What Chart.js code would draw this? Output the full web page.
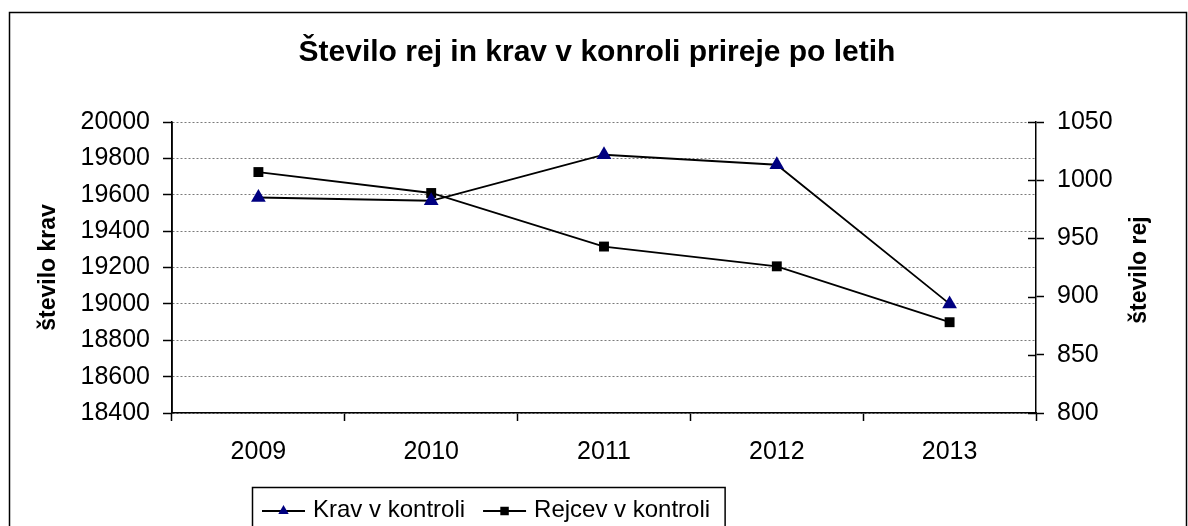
<!DOCTYPE html>
<html>
<head>
<meta charset="utf-8">
<script src="https://cdn.jsdelivr.net/npm/chart.js@4/dist/chart.umd.min.js"></script>
<style>
  html, body { margin: 0; padding: 0; background: #ffffff; }
  #wrap { width: 1188px; height: 526px; }
</style>
</head>
<body>
<div id="wrap"><canvas id="c" width="1188" height="526"></canvas></div>
<script>
// ---- data ----
const chartTitle = "Število rej in krav v konroli prireje po letih";
const years = ["2009", "2010", "2011", "2012", "2013"];
const kravLabel = "Krav v kontroli";
const kravValues = [19585, 19567, 19820, 19765, 19000];
const rejLabel = "Rejcev v kontroli";
const rejValues = [1007, 989, 943, 926, 878];
const leftAxisTitle = "število krav";
const rightAxisTitle = "število rej";
const leftRange = [18400, 20000, 200];
const rightRange = [800, 1050, 50];

const FONT = "'Liberation Sans', Arial, Helvetica, sans-serif";
Chart.defaults.font.family = FONT;
Chart.defaults.color = '#000';

function drawMarker(ctx, style, x, y, r, color) {
  ctx.save();
  ctx.fillStyle = color;
  ctx.beginPath();
  if (style === 'triangle') {
    ctx.moveTo(x, y - r);
    ctx.lineTo(x + r * Math.sqrt(3) / 2, y + r / 2);
    ctx.lineTo(x - r * Math.sqrt(3) / 2, y + r / 2);
    ctx.closePath();
  } else {
    const s = r * Math.SQRT1_2;
    ctx.rect(x - s, y - s, 2 * s, 2 * s);
  }
  ctx.fill();
  ctx.restore();
}

const decorPlugin = {
  id: 'decor',
  beforeDraw(chart) {
    const ctx = chart.ctx;
    ctx.save();
    ctx.fillStyle = '#fff';
    ctx.fillRect(0, 0, chart.width, chart.height);
    ctx.restore();
  },
  beforeDatasetsDraw(chart) {
    // solid left axis line (grid lines are dotted)
    const ctx = chart.ctx;
    const ys = chart.scales.y;
    ctx.save();
    ctx.strokeStyle = '#000';
    ctx.lineWidth = 1.5;
    ctx.setLineDash([]);
    ctx.beginPath();
    ctx.moveTo(ys.right, ys.top);
    ctx.lineTo(ys.right, ys.bottom);
    ctx.stroke();
    ctx.restore();
  },
  afterDraw(chart) {
    const ctx = chart.ctx;
    ctx.save();
    // outer frame
    ctx.strokeStyle = '#000';
    ctx.lineWidth = 1.5;
    ctx.strokeRect(9.5, 12.5, 1177, 560);
    // title
    ctx.fillStyle = '#000';
    ctx.font = 'bold 30px ' + FONT;
    ctx.textAlign = 'center';
    ctx.textBaseline = 'alphabetic';
    ctx.fillText(chartTitle, 597, 61);
    // right axis title (reads bottom to top)
    ctx.save();
    ctx.translate(1140, 270);
    ctx.rotate(-Math.PI / 2);
    ctx.font = 'bold 23px ' + FONT;
    ctx.textAlign = 'center';
    ctx.textBaseline = 'middle';
    ctx.fillText(rightAxisTitle, 0, 0);
    ctx.restore();
    // inner half of right-axis tick marks
    const y1 = chart.scales.y1;
    ctx.strokeStyle = '#000';
    ctx.lineWidth = 1.5;
    y1.ticks.forEach((t, i) => {
      const py = Math.round(y1.getPixelForTick(i)) + 0.5;
      ctx.beginPath();
      ctx.moveTo(y1.left - 8, py);
      ctx.lineTo(y1.left, py);
      ctx.stroke();
    });
    // legend
    ctx.font = '24px ' + FONT;
    ctx.textAlign = 'left';
    ctx.textBaseline = 'alphabetic';
    const ly = 511, textBase = 517;
    let x = 262;
    chart.data.datasets.forEach((ds, i) => {
      ctx.strokeStyle = ds.borderColor;
      ctx.lineWidth = 1.8;
      ctx.beginPath();
      ctx.moveTo(x, ly);
      ctx.lineTo(x + 43, ly);
      ctx.stroke();
      drawMarker(ctx, ds.pointStyle, x + 21.5, ly, 6, ds.pointBackgroundColor);
      ctx.fillStyle = '#000';
      ctx.fillText(ds.label, x + 51, textBase);
      x = x + 51 + ctx.measureText(ds.label).width + 18;
    });
    const boxRight = x - 18 + 15;
    ctx.strokeStyle = '#000';
    ctx.lineWidth = 1.5;
    ctx.strokeRect(252.5, 487.5, boxRight - 252.5, 80);
    ctx.restore();
  }
};

new Chart(document.getElementById('c'), {
  type: 'line',
  data: {
    labels: years,
    datasets: [
      {
        label: kravLabel,
        data: kravValues,
        yAxisID: 'y',
        borderColor: '#000000',
        borderWidth: 1.8,
        pointStyle: 'triangle',
        pointRadius: 8.5,
        pointBackgroundColor: '#000080',
        pointBorderColor: '#000080',
        pointBorderWidth: 0,
        tension: 0,
        fill: false
      },
      {
        label: rejLabel,
        data: rejValues,
        yAxisID: 'y1',
        borderColor: '#000000',
        borderWidth: 1.8,
        pointStyle: 'rect',
        pointRadius: 7,
        pointBackgroundColor: '#000000',
        pointBorderColor: '#000000',
        pointBorderWidth: 0,
        tension: 0,
        fill: false
      }
    ]
  },
  options: {
    responsive: false,
    animation: false,
    devicePixelRatio: 1,
    layout: { padding: { left: 31, top: 122, right: 0, bottom: 0 } },
    plugins: { legend: { display: false }, title: { display: false }, tooltip: { enabled: false } },
    scales: {
      x: {
        type: 'category',
        offset: true,
        grid: { display: true, drawOnChartArea: false, offset: true, tickLength: 8, tickColor: '#000', tickWidth: 1.5 },
        border: { color: '#000', width: 1.5 },
        ticks: { font: { size: 25 }, color: '#000', padding: 16, maxRotation: 0 },
        afterFit(s) { s.height = 113; }
      },
      y: {
        position: 'left',
        min: leftRange[0], max: leftRange[1],
        ticks: { stepSize: leftRange[2], font: { size: 25 }, color: '#000', padding: 13,
                 callback: (v) => String(v) },
        grid: { color: '#7a7a7a', lineWidth: 1, tickLength: 9, tickColor: '#000', tickWidth: 1.5, tickBorderDash: [] },
        border: { color: '#000', width: 1.5, dash: [2, 2] },
        title: { display: true, text: leftAxisTitle, font: { size: 23, weight: 'bold' }, color: '#000', padding: { top: 4, bottom: 0 } },
        afterFit(s) { s.width = 172 - 31; }
      },
      y1: {
        position: 'right',
        min: rightRange[0], max: rightRange[1],
        ticks: { stepSize: rightRange[2], font: { size: 25 }, color: '#000', padding: 13,
                 callback: (v) => String(v) },
        grid: { drawOnChartArea: false, tickLength: 8, tickColor: '#000', tickWidth: 1.5 },
        border: { color: '#000', width: 1.5 },
        afterFit(s) { s.width = 1188 - 1036; }
      }
    }
  },
  plugins: [decorPlugin]
});
</script>
</body>
</html>
